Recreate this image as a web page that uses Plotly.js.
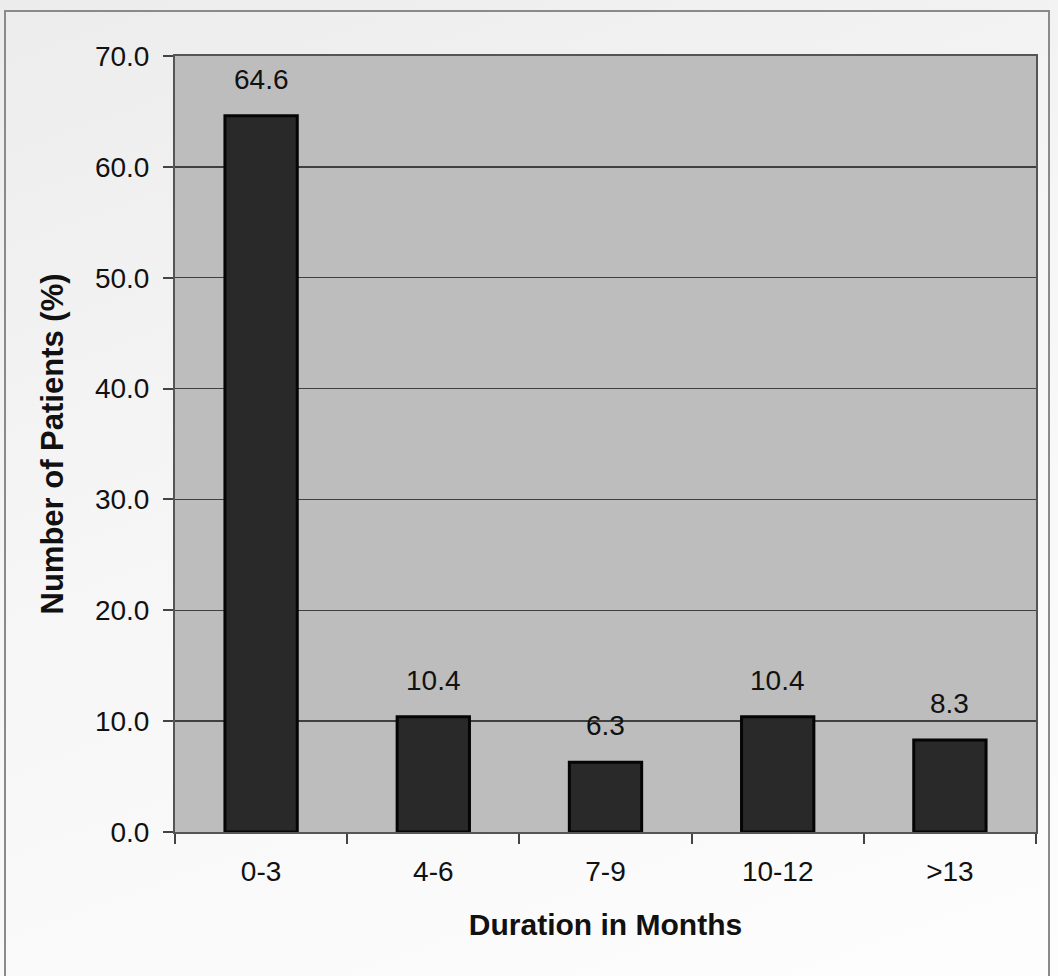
<!DOCTYPE html>
<html>
<head>
<meta charset="utf-8">
<script src="https://cdn.plot.ly/plotly-3.0.1.min.js"></script>
<style>
  html, body { margin: 0; padding: 0; }
  body {
    width: 1058px; height: 976px; position: relative; overflow: hidden;
    background: linear-gradient(160deg, #ececec 0%, #f6f6f6 45%, #fdfdfd 100%);
  }
  #frame {
    position: absolute; left: 4px; top: 10px; width: 1046px; height: 972px;
    border: 2px solid #8a8a8a; box-sizing: border-box; pointer-events: none; z-index: 2;
  }
  #chart { position: absolute; left: 0; top: 0; width: 1058px; height: 976px; }
</style>
</head>
<body>
<div id="chart"></div>
<div id="frame"></div>
<script>
// Share of patients by duration of symptoms
const categories = ['0-3', '4-6', '7-9', '10-12', '>13'];
const patientsPct = [64.6, 10.4, 6.3, 10.4, 8.3];
const yTickValues = [0, 10, 20, 30, 40, 50, 60, 70];
const yTickLabels = ['0.0', '10.0', '20.0', '30.0', '40.0', '50.0', '60.0', '70.0'];

const bars = {
  type: 'bar',
  x: categories,
  y: patientsPct,
  width: 0.42,
  marker: { color: '#292929', line: { color: '#050505', width: 3 } },
  hoverinfo: 'x+y',
  showlegend: false
};

// Value labels sitting above each bar
const valueLabels = categories.map((c, i) => ({
  x: c,
  y: patientsPct[i],
  xref: 'x',
  yref: 'y',
  text: patientsPct[i].toFixed(1),
  showarrow: false,
  yanchor: 'bottom',
  yshift: 19,
  font: { family: 'Liberation Sans, Arial, sans-serif', size: 28, color: '#111' }
}));

const layout = {
  width: 1058,
  height: 976,
  margin: { l: 175, r: 22, t: 56, b: 144 },
  paper_bgcolor: 'rgba(0,0,0,0)',
  plot_bgcolor: '#bdbdbd',
  font: { family: 'Liberation Sans, Arial, sans-serif', size: 28, color: '#111' },
  xaxis: {
    type: 'category',
    tickson: 'boundaries',
    ticks: 'outside',
    ticklen: 10,
    tickwidth: 2,
    tickcolor: '#444',
    ticklabelstandoff: 13,
    showline: true,
    linecolor: '#555',
    linewidth: 2,
    mirror: true,
    showgrid: false,
    tickfont: { size: 28, color: '#111' },
    title: {
      text: '<b>Duration in Months</b>',
      font: { size: 30, color: '#111' },
      standoff: 28
    }
  },
  yaxis: {
    range: [0, 70],
    tickvals: yTickValues,
    ticktext: yTickLabels,
    ticks: 'outside',
    ticklen: 10,
    tickwidth: 2,
    tickcolor: '#444',
    ticklabelstandoff: 8,
    showline: true,
    linecolor: '#555',
    linewidth: 2,
    mirror: true,
    showgrid: true,
    gridcolor: '#404040',
    gridwidth: 1.5,
    zeroline: false,
    tickfont: { size: 28, color: '#111' },
    title: {
      text: '<b>Number of Patients (%)</b>',
      font: { size: 31, color: '#111' },
      standoff: 22
    }
  },
  annotations: valueLabels
};

Plotly.newPlot('chart', [bars], layout, { displayModeBar: false, staticPlot: true });
</script>
</body>
</html>
